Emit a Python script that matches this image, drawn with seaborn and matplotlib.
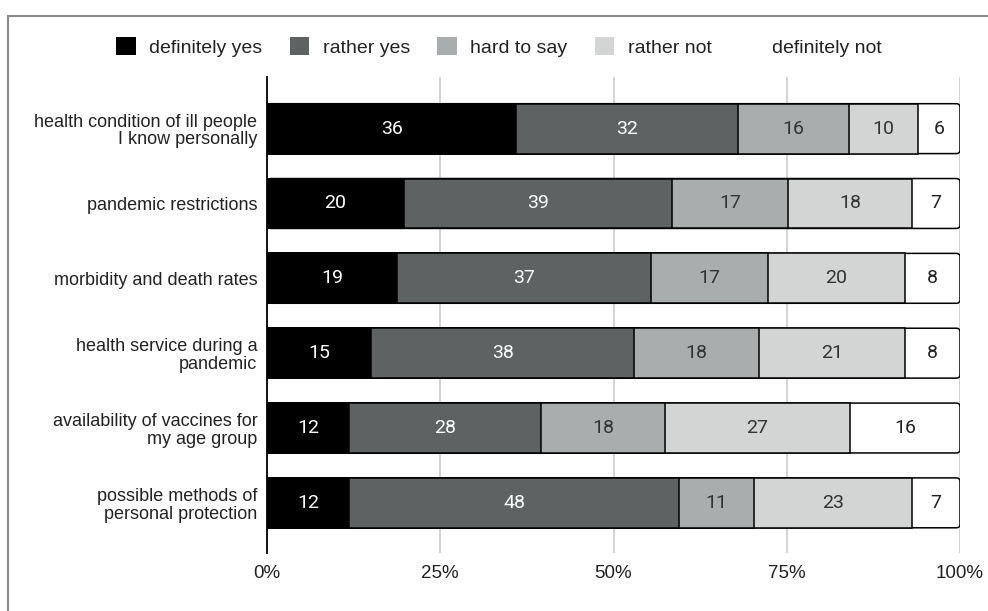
import numpy as np
import pandas as pd
import matplotlib
matplotlib.use("Agg")
import matplotlib.pyplot as plt
from matplotlib.patches import Patch, FancyBboxPatch, Rectangle
import seaborn as sns

categories = [
    "health condition of ill people\nI know personally",
    "pandemic restrictions",
    "morbidity and death rates",
    "health service during a\npandemic",
    "availability of vaccines for\nmy age group",
    "possible methods of\npersonal protection",
]
series_names = ["definitely yes", "rather yes", "hard to say", "rather not", "definitely not"]
definitely_yes = [36, 20, 19, 15, 12, 12]
rather_yes = [32, 39, 37, 38, 28, 48]
hard_to_say = [16, 17, 17, 18, 18, 11]
rather_not = [10, 18, 20, 21, 27, 23]
definitely_not = [6, 7, 8, 8, 16, 7]
tick_labels = ["0%", "25%", "50%", "75%", "100%"]

colors = ["#000000", "#5e6263", "#a9adad", "#d3d5d4", "#ffffff"]
text_colors = ["white", "white", "#333333", "#333333", "#222222"]

sns.set_theme(style="white")
plt.rcParams["font.family"] = ["Liberation Sans", "DejaVu Sans"]

vals = np.array([definitely_yes, rather_yes, hard_to_say, rather_not, definitely_not], dtype=float)
totals = vals.sum(axis=0)
pct = vals / totals * 100
cum = np.cumsum(pct, axis=0)

fig = plt.figure(figsize=(9.88, 6.11), dpi=100)
ax = fig.add_axes([267 / 988, 58 / 611, 693 / 988, 476 / 611])

# outer frame (left and top edges visible)
fig.patches.append(Rectangle((8 / 988, -0.05), 1.2, (611 - 16) / 611 + 0.05,
                             transform=fig.transFigure, fill=False,
                             edgecolor="#8a8a8a", linewidth=1.5, zorder=0))

bar_h = 50 / 75
n = len(categories)
for k in range(len(series_names) - 1, -1, -1):
    df = pd.DataFrame({"cat": categories, "val": cum[k]})
    before = len(ax.patches)
    sns.barplot(data=df, x="val", y="cat", orient="h", color=colors[k],
                saturation=1, edgecolor="black", linewidth=1.1, width=bar_h,
                ax=ax, zorder=3)
    if k == len(series_names) - 1:
        # round the right end of the full bars
        new = ax.patches[before:]
        for p in list(new):
            x0, y0 = p.get_x(), p.get_y()
            w, h = p.get_width(), p.get_height()
            fb = FancyBboxPatch((x0, y0), w, h,
                                boxstyle="round,pad=0,rounding_size=0.55",
                                mutation_aspect=0.085,
                                facecolor=p.get_facecolor(), edgecolor="black",
                                linewidth=1.1, zorder=3)
            p.remove()
            ax.add_patch(fb)

# segment labels
for k in range(len(series_names)):
    start = cum[k] - pct[k]
    for i in range(n):
        ax.text(start[i] + pct[k][i] / 2, i, f"{int(vals[k][i])}",
                ha="center", va="center", color=text_colors[k],
                fontsize=14, family=["Roboto", "DejaVu Sans"], zorder=5)

ax.set_xlim(0, 100)
ax.set_ylim(5.67, -0.69)
ax.set_xticks([0, 25, 50, 75, 100])
ax.set_xticklabels(tick_labels, fontsize=13.5, color="#222222")
ax.tick_params(axis="x", length=0, pad=9)
ax.tick_params(axis="y", length=0, pad=7, labelsize=13, labelcolor="#222222")
for lbl in ax.get_yticklabels():
    lbl.set_linespacing(1.05)
ax.set_xlabel("")
ax.set_ylabel("")
ax.xaxis.grid(True, color="#cccccc", linewidth=1.2, zorder=0)
ax.yaxis.grid(False)
ax.set_axisbelow(True)
for s in ["top", "right", "bottom"]:
    ax.spines[s].set_visible(False)
ax.spines["left"].set_color("black")
ax.spines["left"].set_linewidth(1.3)
ax.spines["left"].set_zorder(6)

handles = []
for k, name in enumerate(series_names):
    if k == len(series_names) - 1:
        handles.append(Patch(facecolor="white", edgecolor="none", label=name))
    else:
        handles.append(Patch(facecolor=colors[k], edgecolor="none", label=name))
fig.legend(handles=handles, loc="center", bbox_to_anchor=(499 / 988, 1 - 47 / 611),
           ncol=5, frameon=False, fontsize=14, handlelength=1.0, handleheight=1.0,
           handletextpad=0.7, columnspacing=1.4, labelcolor="#222222")

fig.savefig("out.png", dpi=100)
